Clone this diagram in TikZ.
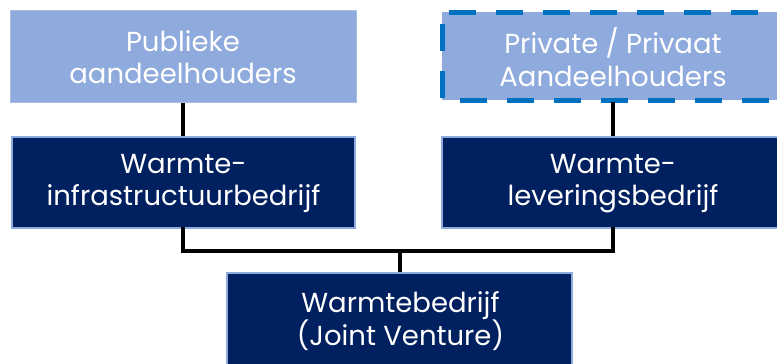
\documentclass[tikz,border=0pt]{standalone}
\usepackage{fontspec}
\setmainfont{Poppins}
\definecolor{lightfill}{HTML}{8FAADC}
\definecolor{lightedge}{HTML}{A9BEE4}
\definecolor{navy}{HTML}{002060}
\definecolor{dashblue}{HTML}{0070C0}
\begin{document}
\begin{tikzpicture}[x=1pt,y=-1pt,
  txt/.style={text=white,font=\fontsize{27.5}{32.5}\selectfont,align=center},
  lightbox/.style={fill=lightfill,draw=lightedge,line width=1pt},
  darkbox/.style={fill=navy,draw=lightfill,line width=1.2pt},
  conn/.style={draw=black,line width=4pt}]
\useasboundingbox (0,0) rectangle (777,364);
\clip (0,0) rectangle (777,364);
% boxes
\path[lightbox] (10,10) rectangle (356,102);
\node[txt] (pub) at (183,57) {Publieke\\aandeelhouders};
\path[darkbox] (12,137) rectangle (355,228);
\node[txt] (inf) at (183.5,183.5) {Warmte-\\infrastructuurbedrijf};
\path[fill=lightfill,draw=dashblue,line width=5pt,dash pattern=on 27pt off 20pt,dash phase=-12pt] (442,12) rectangle (800,100);
\node[txt] (priv) at (613,57) {Private / Privaat\\Aandeelhouders};
\path[darkbox] (442,137) rectangle (790,228);
\node[txt] (lev) at (613,183.5) {Warmte-\\leveringsbedrijf};
\path[darkbox] (227,273) rectangle (572,370);
\node[txt] (jv) at (400.5,321) {Warmtebedrijf\\(Joint Venture)};
% connectors
\coordinate (pubB) at (183,103);
\coordinate (infT) at (183,136);
\coordinate (infB) at (183,229);
\coordinate (privB) at (613,102);
\coordinate (levT) at (613,136);
\coordinate (levB) at (613,229);
\coordinate (jvT) at (399.5,272);
\coordinate (mid) at (399.5,251);
\draw[conn] (pubB) -- (infT);
\draw[conn] (privB) -- (levT);
\draw[conn,line cap=rect] (infB) |- (mid) -| (levB);
\draw[conn] (mid) -- (jvT);
\end{tikzpicture}
\end{document}
